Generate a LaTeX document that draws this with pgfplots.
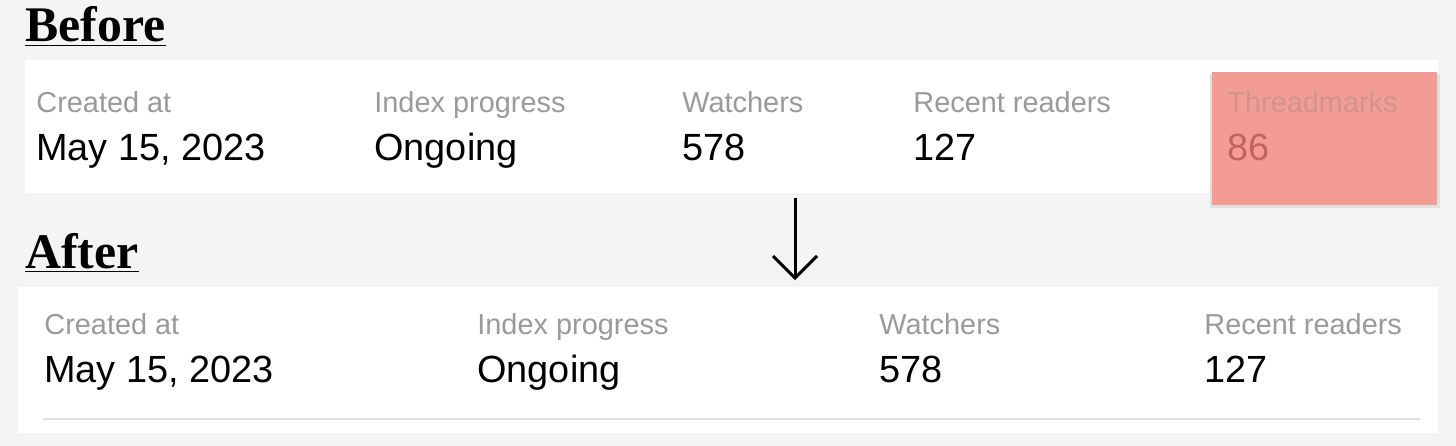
\documentclass[border=0pt]{standalone}
\usepackage{pgfplots}
\pgfplotsset{compat=1.18}
\usepackage{fontspec}
\setmainfont{Liberation Sans}
\newfontfamily\titlefont{Liberation Serif}
\definecolor{bg}{HTML}{F4F4F4}
\definecolor{lab}{HTML}{9A9A9A}
\definecolor{redbox}{HTML}{F29C94}
\definecolor{redtxt}{HTML}{C0645C}
\tikzset{
  lbl/.style={anchor=base west, text=lab, font=\fontsize{14.5}{16}\selectfont, inner sep=0},
  val/.style={anchor=base west, text=black, font=\fontsize{19}{22}\selectfont, inner sep=0},
  ttl/.style={anchor=base west, font=\titlefont\bfseries\fontsize{25}{28}\selectfont, inner sep=0}}
\begin{document}
\begin{tikzpicture}
\begin{axis}[scale only axis, width=728bp, height=223bp, xmin=0, xmax=1456, ymin=0, ymax=446, y dir=reverse, axis lines=none, clip=true]
\fill[bg] (axis cs:0,0) rectangle (axis cs:1456,446);
\fill[white] (axis cs:25,60) rectangle (axis cs:1438,193);
\fill[black!12] (axis cs:1210,74) rectangle (axis cs:1440,208);
\fill[redbox] (axis cs:1212,72) rectangle (axis cs:1437,205);
\fill[white] (axis cs:18,287) rectangle (axis cs:1438,433);
\draw[black!12, line width=1bp] (axis cs:43,419) -- (axis cs:1420,419);
\node[ttl] at (axis cs:25,42) {\underline{Before}};
\node[ttl] at (axis cs:25,268) {\underline{After}};
\draw[line width=1.5bp] (axis cs:795,198) -- (axis cs:795,278);
\draw[line width=1.5bp] (axis cs:773,256) -- (axis cs:795,278) -- (axis cs:817,256);
\node[lbl] at (axis cs:36,112) {Created at};
\node[val] at (axis cs:36,160) {May 15, 2023};
\node[lbl] at (axis cs:374,112) {Index progress};
\node[val] at (axis cs:374,160) {Ongoing};
\node[lbl] at (axis cs:682,112) {Watchers};
\node[val] at (axis cs:682,160) {578};
\node[lbl] at (axis cs:913,112) {Recent readers};
\node[val] at (axis cs:913,160) {127};
\node[lbl, text=redtxt!70] at (axis cs:1227,112) {Threadmarks};
\node[val, text=redtxt] at (axis cs:1227,160) {86};
\node[lbl] at (axis cs:44,334) {Created at};
\node[val] at (axis cs:44,382) {May 15, 2023};
\node[lbl] at (axis cs:477,334) {Index progress};
\node[val] at (axis cs:477,382) {Ongoing};
\node[lbl] at (axis cs:879,334) {Watchers};
\node[val] at (axis cs:879,382) {578};
\node[lbl] at (axis cs:1204,334) {Recent readers};
\node[val] at (axis cs:1204,382) {127};
\end{axis}
\end{tikzpicture}
\end{document}
